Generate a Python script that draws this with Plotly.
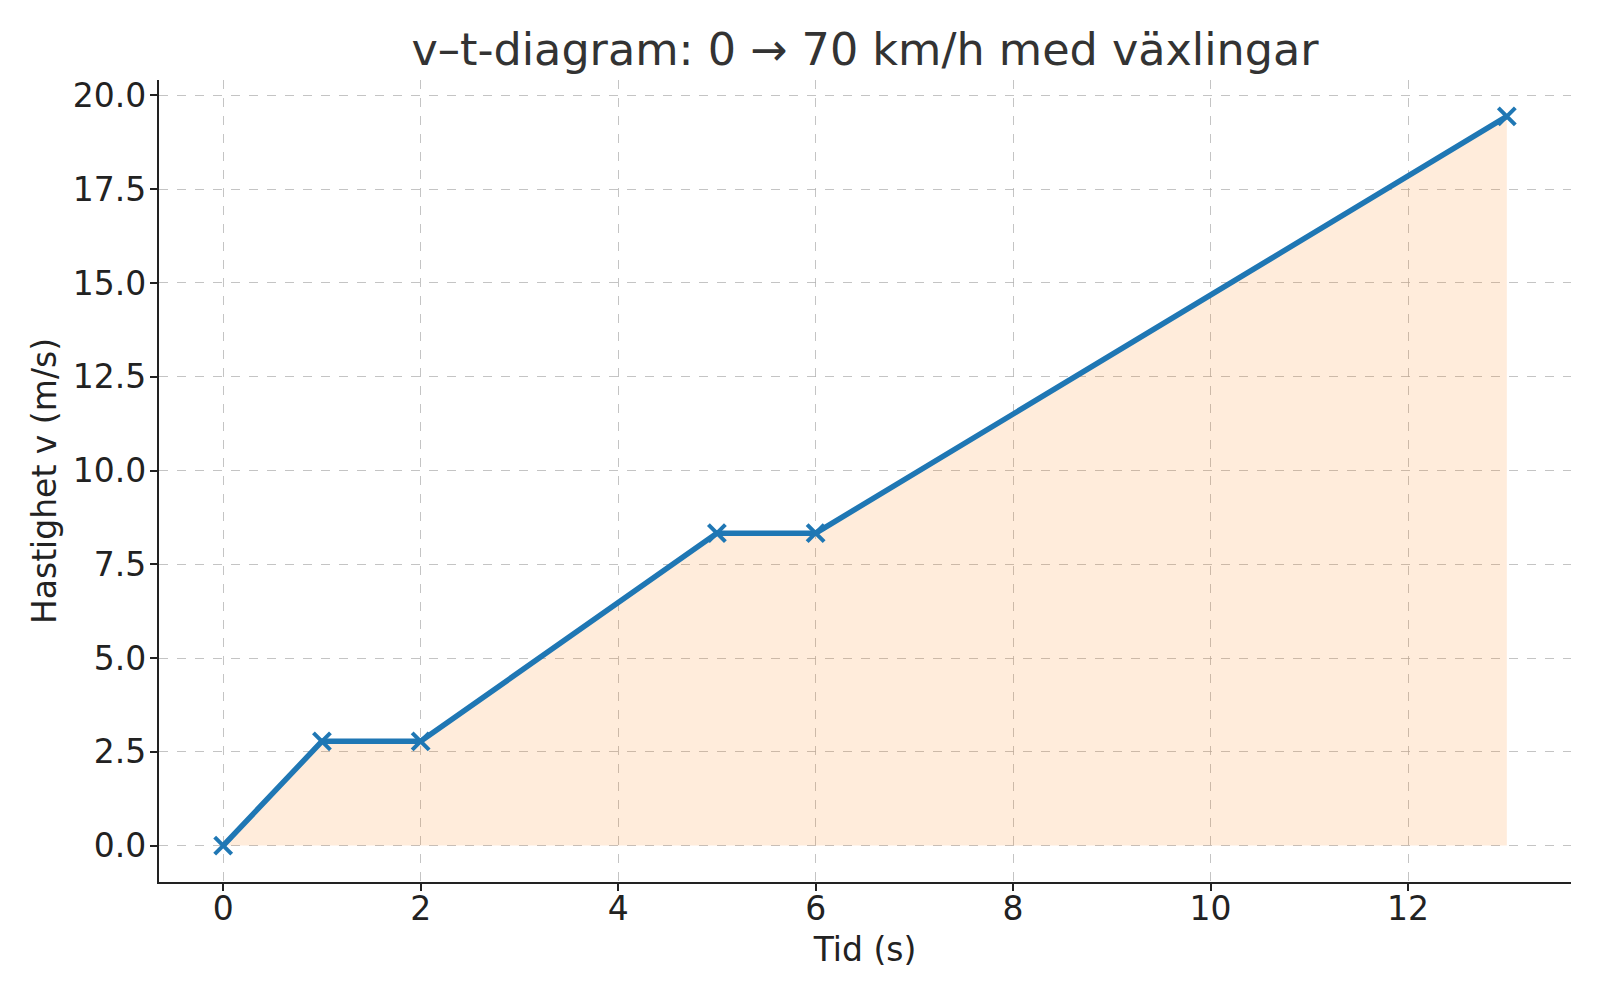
"""v-t-diagram: acceleration 0 -> 70 km/h with gear changes."""

import plotly.graph_objects as go

# time (s) and speed (m/s): 0, 10, 10, 30, 30, 70 km/h
t_s = [0, 1, 2, 5, 6, 13]
v_ms = [0.0, 2.78, 2.78, 8.33, 8.33, 19.44]

x_ticks = [0, 2, 4, 6, 8, 10, 12]
y_ticks = [0.0, 2.5, 5.0, 7.5, 10.0, 12.5, 15.0, 17.5, 20.0]

FONT = "DejaVu Sans"
BLUE = "#1f77b4"

fig = go.Figure()

# shaded area under the curve (distance travelled)
fig.add_trace(
    go.Scatter(
        x=t_s, y=v_ms, mode="none", fill="tozeroy",
        fillcolor="rgba(255,127,14,0.15)", showlegend=False,
        hoverinfo="skip",
    )
)
fig.add_trace(
    go.Scatter(
        x=t_s, y=v_ms, mode="lines+markers",
        line=dict(color=BLUE, width=5.5),
        marker=dict(symbol="x-thin", size=17, color=BLUE,
                    line=dict(color=BLUE, width=4)),
        showlegend=False,
    )
)

axis_common = dict(
    showline=True, linecolor="#222222", linewidth=2.2,
    ticks="outside", ticklen=7, tickwidth=2, tickcolor="#222222",
    showgrid=True, gridcolor="rgba(176,176,176,0.75)", gridwidth=1.3,
    griddash="dash", zeroline=False, mirror=False,
    tickfont=dict(family=FONT, size=33, color="#222222"),
)

fig.update_xaxes(
    range=[-0.65, 13.65], tickvals=x_ticks, ticklabelstandoff=-11,
    title=dict(text="Tid (s)", font=dict(family=FONT, size=33, color="#222222"),
               standoff=11),
    **axis_common,
)
fig.update_yaxes(
    range=[-0.97, 20.41], tickvals=y_ticks, tickformat=".1f",
    ticklabelstandoff=-3,
    title=dict(text="Hastighet v (m/s)",
               font=dict(family=FONT, size=33, color="#222222"), standoff=6),
    **axis_common,
)

fig.update_layout(
    width=1600, height=1000,
    title=dict(text="v–t-diagram: 0 → 70 km/h med växlingar",
               font=dict(family=FONT, size=44.5, color="#333333"),
               x=0.5, xref="paper", xanchor="center",
               y=0.959, yanchor="middle"),
    margin=dict(l=151, r=37, t=72, b=126, autoexpand=False),
    plot_bgcolor="white", paper_bgcolor="white",
)

fig.write_html("out.html")
